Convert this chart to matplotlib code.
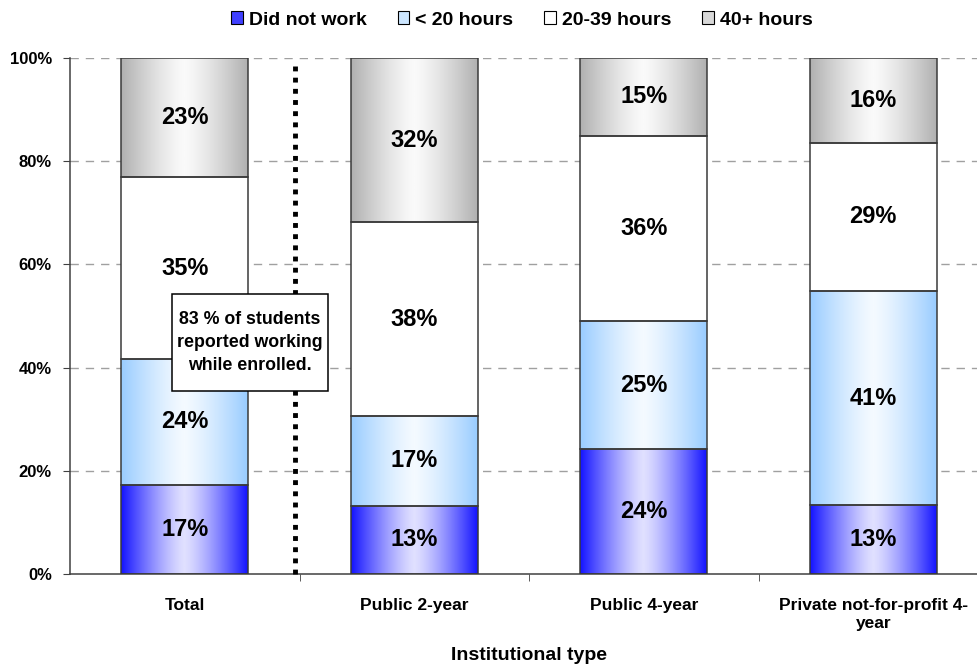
import numpy as np
import matplotlib

matplotlib.use("Agg")

import matplotlib.pyplot as plt  # noqa: E402
from matplotlib.colors import LinearSegmentedColormap  # noqa: E402
from matplotlib.patches import Rectangle  # noqa: E402

plt.rcParams["font.family"] = ["Liberation Sans", "DejaVu Sans"]
plt.rcParams["font.weight"] = "bold"

categories = ["Total", "Public 2-year", "Public 4-year", "Private not-for-profit 4-\nyear"]
series = ["Did not work", "< 20 hours", "20-39 hours", "40+ hours"]
did_not_work = [17.3, 13.2, 24.2, 13.4]
under_20 = [24.4, 17.4, 24.8, 41.4]
hours_20_39 = [35.2, 37.6, 35.9, 28.8]
hours_40_plus = [23.1, 31.8, 15.1, 16.4]
values = [did_not_work, under_20, hours_20_39, hours_40_plus]
y_ticks = [0, 20, 40, 60, 80, 100]

# edge colour, centre colour for each series (horizontal gradient)
GRADIENTS = [
    ("#1414FF", "#E0E0FF"),
    ("#99CCFF", "#F4FAFF"),
    ("#FFFFFF", "#FFFFFF"),
    ("#B0B0B0", "#FAFAFA"),
]
EDGE = "#3A3A3A"
BAR_W = 0.553

fig = plt.figure(figsize=(9.77, 6.69), dpi=100, facecolor="white")
ax = fig.add_axes([70 / 977, 95 / 669, 918 / 977, 516 / 669])

u = np.linspace(0, 1, 256)
profile = 1 - np.abs(2 * u - 1) ** 1.3
grad = np.vstack([profile, profile])

x = np.arange(len(categories))
bottoms = np.zeros(len(categories))
for vals, (edge_c, centre_c) in zip(values, GRADIENTS):
    cmap = LinearSegmentedColormap.from_list("g", [edge_c, centre_c])
    for i, v in enumerate(vals):
        x0, x1 = x[i] - BAR_W / 2, x[i] + BAR_W / 2
        y0, y1 = bottoms[i], bottoms[i] + v
        ax.imshow(grad, cmap=cmap, vmin=0, vmax=1, extent=[x0, x1, y0, y1],
                  aspect="auto", interpolation="bilinear", zorder=2)
        ax.add_patch(Rectangle((x0, y0), BAR_W, v, fill=False,
                               edgecolor=EDGE, linewidth=1.1, zorder=3))
        ax.text(x[i], y0 + v / 2, f"{v:.0f}%", ha="center", va="center",
                fontsize=17, fontweight="bold", color="black", zorder=4)
    bottoms += np.array(vals)

ax.set_xlim(-0.5, len(categories) - 0.5)
ax.set_ylim(0, 100)

ax.set_yticks(y_ticks)
ax.set_yticklabels([f"{t}%" for t in y_ticks], fontsize=12, fontweight="bold")
ax.set_xticks(x)
ax.set_xticklabels(categories, fontsize=12.5, fontweight="bold", linespacing=1.3)
ax.set_xticks(x[:-1] + 0.5, minor=True)
ax.tick_params(axis="x", which="major", length=0, pad=17)
ax.tick_params(axis="x", which="minor", length=5, direction="out", color="#404040")
ax.tick_params(axis="y", length=5, direction="out", color="#404040", pad=8)

for t in y_ticks[1:]:
    ax.axhline(t, color="#A0A0A0", linestyle=(0, (6, 5)), linewidth=1, zorder=1)

for spine in ("top", "right"):
    ax.spines[spine].set_visible(False)
for spine in ("left", "bottom"):
    ax.spines[spine].set_color("#404040")
    ax.spines[spine].set_linewidth(1.1)

# dotted separator between Total and the institution types
ax.plot([0.479, 0.479], [0, 98.5], color="black", linestyle=(0, (1, 1.3)),
        linewidth=3.5, zorder=3, solid_capstyle="butt", clip_on=False)

# annotation box
box_cx, box_cy, box_w, box_h = 0.283, 44.9, 0.68, 18.8
ax.add_patch(Rectangle((box_cx - box_w / 2, box_cy - box_h / 2), box_w, box_h,
                       facecolor="white", edgecolor="black", linewidth=1.1, zorder=5))
ax.text(box_cx, box_cy, "83 % of students\nreported working\nwhile enrolled.",
        ha="center", va="center", fontsize=12.8, fontweight="bold",
        linespacing=1.45, zorder=6)

ax.set_xlabel("Institutional type", fontsize=14, fontweight="bold")
ax.xaxis.set_label_coords(0.5, (574 - 656) / 516)
ax.xaxis.label.set_va("center")

handles = [
    Rectangle((0, 0), 1, 1, facecolor="#4040FF", edgecolor="black", linewidth=0.8),
    Rectangle((0, 0), 1, 1, facecolor="#CCE6FF", edgecolor="black", linewidth=0.8),
    Rectangle((0, 0), 1, 1, facecolor="white", edgecolor="black", linewidth=0.8),
    Rectangle((0, 0), 1, 1, facecolor="#D8D8D8", edgecolor="black", linewidth=0.8),
]
fig.legend(handles, series, loc="center", bbox_to_anchor=(522 / 977, 1 - 20 / 669),
           ncol=4, frameon=False, prop={"size": 14, "weight": "bold"},
           handlelength=0.6, handleheight=0.6, handletextpad=0.3, columnspacing=1.6)

fig.savefig("out.png", dpi=100, facecolor="white")
